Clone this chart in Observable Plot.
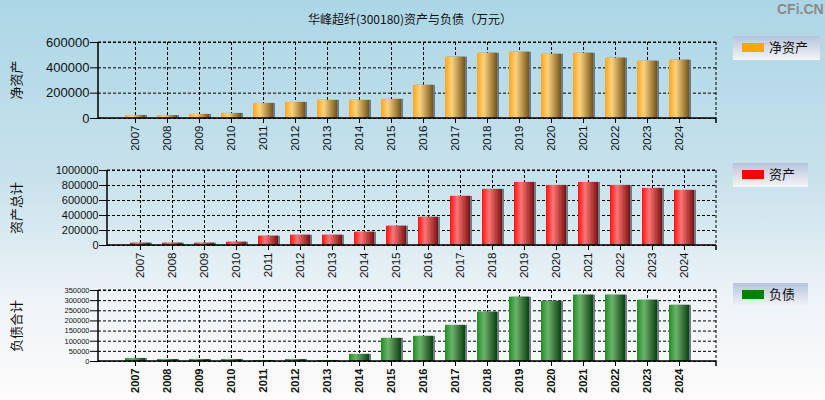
<!DOCTYPE html>
<html><head><meta charset="utf-8">
<script src="https://cdn.jsdelivr.net/npm/d3@7"></script>
<script src="https://cdn.jsdelivr.net/npm/@observablehq/plot@0.6"></script>
<style>
html,body{margin:0;padding:0;}
#wrap{position:relative;width:825px;height:400px;overflow:hidden;
 background:linear-gradient(to bottom,#acd6e6 0%,#c8e2ec 45%,#eef4f7 75%,#fdfbfb 100%);
 font-family:"Liberation Sans",Arial,sans-serif;}
.title{position:absolute;left:0;width:820px;top:10px;text-align:center;font-size:12px;color:#111;font-family:"Noto Sans CJK SC",sans-serif;}
.logo{position:absolute;left:777px;top:1px;font-size:14px;font-weight:bold;color:#8a8a8a;font-family:"Liberation Sans",Arial,sans-serif;}
.chart{position:absolute;left:0;}
.ytitle{position:absolute;left:15px;white-space:nowrap;font-size:13px;color:#111;font-family:"Noto Sans CJK SC",sans-serif;transform:translate(-50%,-50%) rotate(-90deg);}
.legend{position:absolute;left:733px;height:24px;background:linear-gradient(to bottom,#b6c4dc,#f5f5f8);font-family:"Noto Sans CJK SC",sans-serif;font-size:13px;color:#111;}
.legend .sw{position:absolute;left:9px;top:7px;width:22px;height:9px;}
.legend .tx{position:absolute;left:36px;top:2px;line-height:18px;}
</style></head>
<body><div id="wrap">
<div class="title">华峰超纤(300180)资产与负债（万元）</div>
<div class="logo">CFi.CN</div>
</div>
<script>
const years = ["2007","2008","2009","2010","2011","2012","2013","2014","2015","2016","2017","2018","2019","2020","2021","2022","2023","2024"];
const netAssets = [24000,23000,32000,40000,119000,127000,143000,143000,151000,262000,484000,515000,523000,507000,515000,476000,452000,460000];
const totalAssets = [31000,31000,31000,44000,124000,137000,137000,177000,257000,376000,655000,748000,841000,801000,841000,801000,761000,735000];
const liabilities = [15000,10000,10000,10000,5000,10000,5000,35000,114000,124000,178000,243000,317000,297000,327000,327000,302000,277000];
const ticksTop = [0,200000,400000,600000];
const ticksMid = [0,200000,400000,600000,800000,1000000];
const ticksBot = [0,50000,100000,150000,200000,250000,300000,350000];
const seriesNames = ["净资产","资产","负债"];
const axisTitles = ["净资产","资产总计","负债合计"];

const wrap = document.getElementById("wrap");

function makeChart(cfg){
  const data = years.map((y,i)=>({year:y, value:cfg.values[i]}));
  const gid = "grad"+cfg.key;
  const edges = (index, scales, values, dim) => {
    const g = document.createElementNS("http://www.w3.org/2000/svg","g");
    const l = dim.marginLeft, r = dim.width - dim.marginRight, t = dim.marginTop, b = dim.height - dim.marginBottom;
    const lines = [[l,t,l,b,""],[l,b,r,b,""],[r,t,r,b,"3,2"],[l,t,r,t,"3,2"],[r,b,r,b+5,""]];
    for(const [x1,y1,x2,y2,da] of lines){
      const ln = document.createElementNS("http://www.w3.org/2000/svg","line");
      ln.setAttribute("x1",x1);ln.setAttribute("y1",y1);ln.setAttribute("x2",x2);ln.setAttribute("y2",y2);
      ln.setAttribute("stroke","black");ln.setAttribute("stroke-width",da?1:1.5);
      if(da) ln.setAttribute("stroke-dasharray",da);
      g.appendChild(ln);
    }
    return g;
  };
  const plot = Plot.plot({
    width: 825, height: cfg.height,
    marginTop: cfg.mt, marginBottom: cfg.mb, marginLeft: cfg.ml, marginRight: 109,
    style: {background:"transparent", fontFamily:"Liberation Sans, Arial, sans-serif", color:"#111"},
    x: {type:"band", domain: years, paddingInner: 0.38, paddingOuter: 0.69},
    y: {domain: cfg.domain},
    marks: [
      Plot.gridX({stroke:"black", strokeOpacity:1, strokeDasharray:"3,2"}),
      Plot.gridY(cfg.ticks, {stroke:"black", strokeOpacity:1, strokeDasharray:"3,2"}),
      Plot.rectY(data, {x:"year", y:"value", fill:"#6b7b88", dx:2}),
      Plot.rectY(data, {x:"year", y:"value", fill:`url(#${gid})`}),
      edges,
      Plot.axisY({ticks: cfg.ticks, tickFormat: d3.format("d"), tickSize: 8, tickPadding: 1, fontSize: cfg.yfs, stroke:"black", label:null}),
      Plot.axisX({tickRotate:-90, tickSize:5, tickPadding:2, fontSize: cfg.xfs, fontWeight: cfg.xfw, stroke:"black", label:null})
    ]
  });
  const ns = "http://www.w3.org/2000/svg";
  const defs = document.createElementNS(ns,"defs");
  const lg = document.createElementNS(ns,"linearGradient");
  lg.setAttribute("id",gid);lg.setAttribute("x1","0");lg.setAttribute("x2","1");lg.setAttribute("y1","0");lg.setAttribute("y2","0");
  for(const [o,c] of cfg.stops){
    const s = document.createElementNS(ns,"stop");s.setAttribute("offset",o);s.setAttribute("stop-color",c);lg.appendChild(s);
  }
  defs.appendChild(lg);
  plot.insertBefore(defs, plot.firstChild);
  plot.classList.add("chart");
  plot.style.top = cfg.top+"px";
  wrap.appendChild(plot);

  const yt = document.createElement("div");
  yt.className = "ytitle";
  yt.style.top = (cfg.top + cfg.mt + (cfg.height - cfg.mt - cfg.mb)/2) + "px";
  yt.textContent = cfg.title;
  wrap.appendChild(yt);

  const leg = document.createElement("div");
  leg.className = "legend";
  leg.style.top = cfg.legTop+"px";
  leg.style.width = cfg.legW+"px";
  leg.innerHTML = `<div class="sw" style="background:${cfg.swatch}"></div><div class="tx">${cfg.name}</div>`;
  wrap.appendChild(leg);
}

makeChart({key:"A", values: netAssets, height:150, top:0, mt:42, mb:32, ml:98, domain:[0,600000], ticks:ticksTop,
  yfs:13, xfs:11.5, xfw:"normal", title:axisTitles[0], name:seriesNames[0], swatch:"#ffa500", legTop:36, legW:87,
  stops:[["0","#ffa51a"],["0.35","#f9d27e"],["1","#74531a"]]});
makeChart({key:"B", values: totalAssets, height:130, top:150, mt:20, mb:35, ml:107, domain:[0,1000000], ticks:ticksMid,
  yfs:11, xfs:11.5, xfw:"normal", title:axisTitles[1], name:seriesNames[1], swatch:"#ff0000", legTop:163, legW:75,
  stops:[["0","#ff1010"],["0.35","#ff7575"],["1","#7a1010"]]});
makeChart({key:"C", values: liabilities, height:120, top:280, mt:10, mb:39, ml:98, domain:[0,350000], ticks:ticksBot,
  yfs:7.5, xfs:11, xfw:"bold", title:axisTitles[2], name:seriesNames[2], swatch:"#008000", legTop:283, legW:75,
  stops:[["0","#1f8f1f"],["0.35","#6cb26c"],["1","#0f3f10"]]});
</script>
</body></html>
